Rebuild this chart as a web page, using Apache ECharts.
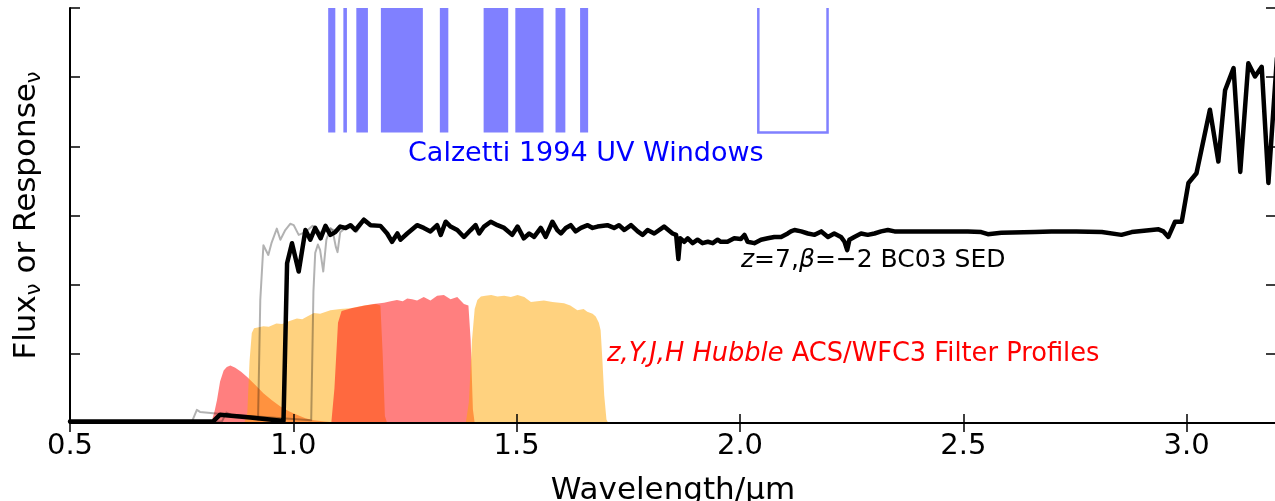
<!DOCTYPE html>
<html>
<head>
<meta charset="utf-8">
<script src="https://cdn.jsdelivr.net/npm/echarts/dist/echarts.min.js"></script>
<style>
  html, body { margin: 0; padding: 0; background: #fff; }
  #chart { width: 1275px; height: 501px; }
</style>
</head>
<body>
<div id="chart"></div>
<script>
// z=7, beta=-2 BC03 model spectrum (wavelength in micron, flux in arbitrary units)
const sedWave = [0.50,0.82,0.836,0.904,0.978,0.986,0.997,1.012,1.027,1.038,1.049,1.061,1.072,1.083,1.094,1.105,1.117,1.128,1.139,1.158,1.173,1.195,1.210,1.221,1.233,1.240,1.255,1.277,1.292,1.307,1.322,1.330,1.341,1.352,1.367,1.382,1.397,1.408,1.416,1.427,1.442,1.457,1.472,1.490,1.502,1.516,1.528,1.539,1.554,1.565,1.580,1.591,1.599,1.610,1.621,1.632,1.644,1.659,1.670,1.681,1.703,1.718,1.729,1.741,1.756,1.771,1.782,1.793,1.808,1.830,1.849,1.857,1.862,1.866,1.875,1.883,1.894,1.905,1.916,1.928,1.939,1.950,1.957,1.972,1.987,2.002,2.010,2.017,2.032,2.047,2.062,2.077,2.092,2.107,2.114,2.122,2.137,2.152,2.167,2.182,2.197,2.211,2.226,2.234,2.240,2.245,2.256,2.271,2.286,2.301,2.316,2.331,2.346,2.361,2.436,2.510,2.540,2.555,2.570,2.585,2.660,2.697,2.753,2.810,2.854,2.877,2.921,2.937,2.948,2.959,2.974,2.989,3.004,3.022,3.052,3.071,3.086,3.105,3.120,3.138,3.153,3.168,3.183,3.202];
const sedFlux = [0.02,0.02,0.12,0.08,0.03,2.31,2.60,2.19,2.79,2.65,2.82,2.67,2.85,2.72,2.76,2.84,2.82,2.86,2.79,2.94,2.86,2.85,2.74,2.62,2.74,2.65,2.74,2.86,2.82,2.77,2.86,2.72,2.91,2.84,2.79,2.69,2.79,2.86,2.74,2.84,2.91,2.86,2.82,2.72,2.84,2.67,2.74,2.69,2.82,2.69,2.91,2.79,2.74,2.82,2.86,2.77,2.82,2.86,2.82,2.84,2.86,2.82,2.86,2.79,2.86,2.77,2.72,2.79,2.74,2.84,2.74,2.72,2.37,2.67,2.62,2.67,2.60,2.65,2.60,2.62,2.60,2.65,2.62,2.62,2.67,2.66,2.72,2.62,2.60,2.65,2.67,2.69,2.69,2.74,2.77,2.79,2.77,2.74,2.72,2.77,2.69,2.74,2.69,2.62,2.50,2.65,2.69,2.74,2.72,2.74,2.77,2.79,2.77,2.77,2.77,2.77,2.76,2.73,2.74,2.75,2.76,2.77,2.77,2.76,2.72,2.76,2.79,2.80,2.77,2.69,2.91,2.91,3.47,3.61,4.53,3.78,4.81,5.13,3.63,5.20,5.01,5.15,3.47,5.27];

// Same template at a slightly lower and a slightly higher redshift
const sedLoWave = [0.50,0.773,0.784,0.791,0.821,0.904,0.921,0.926,0.933,0.944,0.951,0.963,0.971,0.982,0.993,1.001,1.012,1.027,1.043,1.061,1.083,1.100];
const sedLoFlux = [0.02,0.02,0.19,0.16,0.14,0.09,0.05,1.78,2.57,2.43,2.60,2.81,2.65,2.79,2.88,2.86,2.72,2.76,2.85,2.75,2.80,2.78];
const sedHiWave = [0.50,0.84,0.85,0.86,0.95,1.040,1.045,1.049,1.055,1.060,1.067,1.074,1.083,1.088,1.095,1.099,1.105,1.117,1.128,1.141,1.157,1.175];
const sedHiFlux = [0.02,0.02,0.15,0.12,0.08,0.04,1.90,2.46,2.58,2.50,2.19,2.65,2.82,2.78,2.55,2.47,2.76,2.82,2.86,2.76,2.91,2.86];

// Filter throughput curves (arbitrary normalisation)
const zWave = [0.79,0.805,0.818,0.824,0.829,0.836,0.844,0.851,0.859,0.870,0.883,0.896,0.915,0.933,0.952,0.971,0.990,1.008,1.027,1.046,1.070,1.105];
const zResp = [0,0.01,0.04,0.18,0.33,0.60,0.76,0.81,0.83,0.80,0.74,0.67,0.55,0.43,0.33,0.24,0.17,0.12,0.07,0.04,0.02,0];
const yWave = [0.890,0.897,0.902,0.907,0.912,0.920,0.933,0.945,0.962,0.975,0.990,1.008,1.020,1.031,1.046,1.060,1.083,1.105,1.128,1.158,1.185,1.195,1.200,1.205,1.210];
const yResp = [0,0.15,0.90,1.30,1.37,1.38,1.40,1.39,1.44,1.43,1.47,1.51,1.50,1.54,1.59,1.58,1.63,1.65,1.66,1.70,1.72,1.70,1.00,0.10,0];
const jWave = [1.085,1.092,1.100,1.108,1.130,1.160,1.180,1.203,1.218,1.232,1.245,1.255,1.266,1.277,1.292,1.307,1.322,1.337,1.352,1.367,1.382,1.392,1.397,1.402,1.406];
const jResp = [0,0.50,1.45,1.62,1.66,1.70,1.72,1.74,1.76,1.78,1.76,1.80,1.79,1.77,1.82,1.77,1.84,1.85,1.79,1.82,1.72,1.70,1.20,0.20,0];
const hWave = [1.386,1.393,1.400,1.406,1.412,1.420,1.430,1.443,1.457,1.472,1.487,1.502,1.517,1.532,1.546,1.561,1.580,1.606,1.620,1.636,1.650,1.658,1.670,1.677,1.684,1.688,1.692,1.696,1.701,1.705];
const hResp = [0,0.30,1.20,1.65,1.78,1.83,1.84,1.85,1.83,1.84,1.82,1.85,1.82,1.75,1.76,1.77,1.75,1.73,1.70,1.63,1.65,1.61,1.58,1.54,1.45,1.34,0.90,0.40,0.05,0];

// Calzetti et al. (1994) UV continuum windows, observed frame (micron)
const windowStart = [1.078,1.112,1.141,1.196,1.328,1.426,1.497,1.587,1.642,2.041];
const windowEnd   = [1.094,1.120,1.167,1.290,1.347,1.481,1.560,1.609,1.660,2.196];
const windowFilled = [1,1,1,1,1,1,1,1,1,0];
const windowLow = 4.2, windowHigh = 6.1;

// Axis ranges and tick spacing
const xRange = [0.5, 3.2], xStep = 0.5;
const yRange = [0, 6], yStep = 1;

const FONT = '"DejaVu Sans", "Liberation Sans", sans-serif';
const pairs = (xs, ys) => xs.map((x, i) => [x, ys[i]]);

const chart = echarts.init(document.getElementById('chart'), null, { renderer: 'canvas' });

const axisLineStyle = { color: '#000', width: 2 };
const tickStyle = { color: '#000', width: 1.5 };

function filterSeries(name, xs, ys, color) {
  return {
    name, type: 'line', data: pairs(xs, ys), symbol: 'none', z: 2,
    lineStyle: { width: 0 },
    areaStyle: { color, opacity: 1 },
    silent: true
  };
}

const option = {
  animation: false,
  backgroundColor: '#fff',
  grid: { left: 70, right: -1, top: 8, bottom: 78, containLabel: false, outerBoundsMode: 'none' },
  xAxis: [
    {
      type: 'value', min: xRange[0], max: xRange[1], interval: xStep,
      position: 'bottom', z: 10,
      axisLine: { show: true, lineStyle: axisLineStyle },
      axisTick: { show: true, inside: true, length: 9, lineStyle: tickStyle },
      splitLine: { show: false },
      axisLabel: {
        show: true, color: '#000', fontSize: 29, fontFamily: FONT, margin: 9,
        showMaxLabel: false,
        formatter: v => v.toFixed(1)
      },
      name: 'Wavelength/\u00b5m', nameLocation: 'middle', nameGap: 52,
      nameTextStyle: { color: '#000', fontSize: 31, fontFamily: FONT }
    },
    {
      type: 'value', min: xRange[0], max: xRange[1], interval: xStep,
      position: 'top', z: 10,
      axisLine: { show: true, lineStyle: axisLineStyle },
      axisTick: { show: true, inside: true, length: 9, lineStyle: tickStyle },
      splitLine: { show: false },
      axisLabel: { show: false }
    }
  ],
  yAxis: [
    {
      type: 'value', min: yRange[0], max: yRange[1], interval: yStep,
      position: 'left', z: 10,
      axisLine: { show: true, lineStyle: axisLineStyle },
      axisTick: { show: true, inside: true, length: 10, lineStyle: tickStyle },
      splitLine: { show: false },
      axisLabel: { show: false },
      name: '{n|Flux}{s|\u03bd}{n| or Response}{s|\u03bd}',
      nameLocation: 'middle', nameGap: 25, nameRotate: 90,
      nameTextStyle: {
        color: '#000', fontSize: 31, fontFamily: FONT,
        rich: {
          n: { fontSize: 31, fontFamily: FONT, color: '#000', lineHeight: 36 },
          s: { fontSize: 21, fontFamily: FONT, color: '#000', lineHeight: 20, verticalAlign: 'bottom' }
        }
      }
    },
    {
      type: 'value', min: yRange[0], max: yRange[1], interval: yStep,
      position: 'right', z: 10,
      axisLine: { show: true, lineStyle: axisLineStyle },
      axisTick: { show: true, inside: true, length: 10, lineStyle: tickStyle },
      splitLine: { show: false },
      axisLabel: { show: false }
    }
  ],
  series: [
    filterSeries('z', zWave, zResp, 'rgba(255,0,0,0.5)'),
    filterSeries('Y', yWave, yResp, 'rgba(255,165,0,0.5)'),
    filterSeries('J', jWave, jResp, 'rgba(255,0,0,0.5)'),
    filterSeries('H', hWave, hResp, 'rgba(255,165,0,0.5)'),
    {
      name: 'windows', type: 'custom', z: 2, silent: true, clip: true,
      data: windowStart.map((s, i) => [s, windowEnd[i], windowLow, windowHigh, windowFilled[i]]),
      renderItem(params, api) {
        const a = api.coord([api.value(0), api.value(3)]);
        const b = api.coord([api.value(1), api.value(2)]);
        const filled = api.value(4) === 1;
        return {
          type: 'rect',
          shape: { x: a[0], y: a[1], width: b[0] - a[0], height: b[1] - a[1] },
          style: filled ? { fill: '#8080ff', stroke: null }
                        : { fill: null, stroke: '#8080ff', lineWidth: 2.5 }
        };
      }
    },
    {
      name: 'sedLo', type: 'line', data: pairs(sedLoWave, sedLoFlux), symbol: 'none', z: 3, silent: true,
      lineStyle: { color: 'rgba(0,0,0,0.3)', width: 2, join: 'round' }
    },
    {
      name: 'sedHi', type: 'line', data: pairs(sedHiWave, sedHiFlux), symbol: 'none', z: 3, silent: true,
      lineStyle: { color: 'rgba(0,0,0,0.3)', width: 2, join: 'round' }
    },
    {
      name: 'sed', type: 'line', data: pairs(sedWave, sedFlux), symbol: 'none', z: 4, silent: true,
      lineStyle: { color: '#000', width: 4.5, join: 'round', cap: 'round' }
    }
  ],
  graphic: [
    {
      type: 'text', x: 408, y: 154, z: 20, silent: true,
      style: { text: 'Calzetti 1994 UV Windows', fill: '#0000ff', font: '27px ' + FONT, verticalAlign: 'middle' }
    },
    {
      type: 'text', x: 741, y: 260, z: 20, silent: true,
      style: {
        text: '{i|z}{n|=7,}{i|\u03b2}{n|=\u22122 BC03 SED}', verticalAlign: 'middle',
        rich: {
          i: { fontSize: 25, fontFamily: FONT, fontStyle: 'italic', fill: '#000' },
          n: { fontSize: 25, fontFamily: FONT, fill: '#000' }
        }
      }
    },
    {
      type: 'text', x: 607, y: 354, z: 20, silent: true,
      style: {
        text: '{i|z,Y,J,H Hubble}{n| ACS/WFC3 Filter Profiles}', verticalAlign: 'middle',
        rich: {
          i: { fontSize: 25.7, fontFamily: FONT, fontStyle: 'italic', fill: '#ff0000' },
          n: { fontSize: 25.7, fontFamily: FONT, fill: '#ff0000' }
        }
      }
    }
  ]
};

chart.setOption(option);
</script>
</body>
</html>
